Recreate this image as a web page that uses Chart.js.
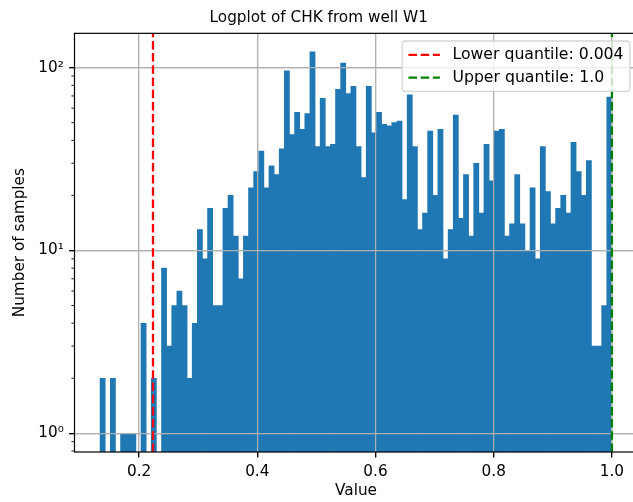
<!DOCTYPE html>
<html>
<head>
<meta charset="utf-8">
<script src="https://cdn.jsdelivr.net/npm/chart.js@4.4.1/dist/chart.umd.min.js"></script>
<style>
  html, body { margin: 0; padding: 0; background: #fff; overflow: hidden; }
  canvas { display: block; }
</style>
</head>
<body>
<canvas id="chart" width="640" height="502"></canvas>
<script>
'use strict';

// histogram of CHK (100 bins between binLo and binHi)
const binLo = 0.134;
const binHi = 1.0;
const counts = [
  2, 0, 2, 0, 1, 1, 1, 0, 4, 0,
  2, 0, 8, 3, 5, 6, 5, 2, 4, 13,
  9, 17, 5, 5, 17, 20, 12, 7, 12, 22,
  27, 35, 22, 29, 26, 36, 96, 43, 57, 46,
  56, 122, 37, 68, 37, 38, 76, 106, 72, 79,
  37, 25, 79, 44, 57, 49, 48, 50, 51, 19,
  71, 37, 13, 16, 45, 20, 46, 9, 13, 55,
  15, 26, 12, 30, 16, 38, 24, 45, 46, 12,
  14, 26, 14, 10, 22, 9, 37, 21, 14, 17,
  20, 16, 39, 27, 20, 31, 3, 3, 5, 69
];

const quantileValues = [0.2235, 1.0];
const quantileLabels = ['Lower quantile: 0.004', 'Upper quantile: 1.0'];
const quantileColors = ['#ff0000', '#008000'];

const xTicks = [0.2, 0.4, 0.6, 0.8, 1.0];
const xTickLabels = ['0.2', '0.4', '0.6', '0.8', '1.0'];
const yTicks = [1, 10, 100];
const yTickLabels = ['10\u2070', '10\u00b9', '10\u00b2'];
const yMinorTicks = [0.8, 0.9, 2, 3, 4, 5, 6, 7, 8, 9, 20, 30, 40, 50, 60, 70, 80, 90];

const xMin = 0.0907, xMax = 1.0433;
const yMin = 0.79, yMax = 154;

const FONT = 'DejaVu Sans';
const FS = 15.28;
const LEGEND_FS = 15.7;

const binWidth = (binHi - binLo) / counts.length;
const barData = counts.map((c, i) => ({ x: binLo + (i + 0.5) * binWidth, y: c > 0 ? c : null }));

const lineSets = quantileValues.map((v, i) => ({
  type: 'line',
  label: quantileLabels[i],
  data: [{ x: v, y: yMin }, { x: v, y: yMax }],
  borderColor: quantileColors[i],
  borderWidth: 2.3,
  borderDash: [8.5, 3.7],
  pointRadius: 0,
  order: 1
}));

// grid over the bars, spines, minor ticks, legend box
const overlay = {
  id: 'overlay',
  afterDatasetDraw(chart, args) {
    if (args.meta.type !== 'bar') return;
    chart.scales.x.drawGrid(chart.chartArea);
    chart.scales.y.drawGrid(chart.chartArea);
  },
  afterDraw(chart) {
    const ctx = chart.ctx;
    const a = chart.chartArea;
    const ys = chart.scales.y;
    ctx.save();
    ctx.strokeStyle = '#000';
    ctx.lineWidth = 0.9;
    yMinorTicks.forEach(v => {
      const py = ys.getPixelForValue(v);
      ctx.beginPath();
      ctx.moveTo(a.left - 3.1, py);
      ctx.lineTo(a.left, py);
      ctx.stroke();
    });
    ctx.lineWidth = 1.2;
    ctx.strokeRect(a.left, a.top, a.right - a.left, a.bottom - a.top);

    // legend
    const fs = LEGEND_FS;
    ctx.font = fs + 'px "' + FONT + '"';
    const textW = Math.max(...quantileLabels.map(t => ctx.measureText(t).width));
    const pad = 0.4 * fs, handleLen = 2 * fs, handleGap = 0.8 * fs;
    const rowH = 15.1, rowGap = 0.5 * FS;
    const w = pad + handleLen + handleGap + textW + pad;
    const h = pad * 2 + rowH * quantileLabels.length + rowGap * (quantileLabels.length - 1);
    const bx = a.right - 0.5 * FS - w;
    const by = a.top + 0.5 * FS;
    ctx.beginPath();
    ctx.roundRect(bx, by, w, h, 3);
    ctx.fillStyle = 'rgba(255,255,255,0.8)';
    ctx.fill();
    ctx.strokeStyle = 'rgba(204,204,204,0.8)';
    ctx.lineWidth = 1.3;
    ctx.stroke();
    quantileLabels.forEach((t, i) => {
      const cy = by + pad + rowH / 2 + i * (rowH + rowGap);
      ctx.beginPath();
      ctx.setLineDash([8.5, 3.7]);
      ctx.strokeStyle = quantileColors[i];
      ctx.lineWidth = 2.3;
      ctx.moveTo(bx + pad, cy);
      ctx.lineTo(bx + pad + handleLen, cy);
      ctx.stroke();
      ctx.setLineDash([]);
      ctx.fillStyle = '#000';
      ctx.textBaseline = 'middle';
      ctx.textAlign = 'left';
      ctx.fillText(t, bx + pad + handleLen + handleGap, cy);
    });
    ctx.restore();
  }
};

new Chart(document.getElementById('chart'), {
  type: 'bar',
  data: {
    datasets: [{
      label: 'CHK',
      data: barData,
      backgroundColor: '#1f77b4',
      borderWidth: 0,
      barPercentage: 1,
      categoryPercentage: 1,
      order: 2
    }].concat(lineSets)
  },
  options: {
    responsive: false,
    animation: false,
    layout: { padding: { left: 0, right: 2.5, top: 0, bottom: 0 } },
    plugins: {
      legend: { display: false },
      tooltip: { enabled: false },
      title: {
        display: true,
        text: 'Logplot of CHK from well W1',
        color: '#000',
        font: { family: FONT, size: FS, weight: 'normal' },
        padding: { top: 9.3, bottom: 5.7 }
      }
    },
    scales: {
      x: {
        type: 'linear',
        min: xMin,
        max: xMax,
        offset: false,
        afterFit: s => { s.height = 50; },
        afterBuildTicks: s => { s.ticks = xTicks.map(v => ({ value: v })); },
        ticks: {
          autoSkip: false,
          maxRotation: 0,
          padding: 5.3,
          color: '#000',
          font: { family: FONT, size: FS },
          callback: v => xTickLabels[xTicks.indexOf(v)]
        },
        grid: { offset: false, color: '#b0b0b0', lineWidth: 1.2, tickColor: '#000', tickWidth: 1.2, tickLength: 5.3 },
        border: { display: false },
        title: {
          display: true,
          text: 'Value',
          color: '#000',
          font: { family: FONT, size: FS },
          padding: { top: 0, bottom: 1.8 }
        }
      },
      y: {
        type: 'logarithmic',
        min: yMin,
        max: yMax,
        afterFit: s => { s.width = 74.5; },
        afterBuildTicks: s => { s.ticks = yTicks.map(v => ({ value: v })); },
        ticks: {
          autoSkip: false,
          padding: 5.3,
          color: '#000',
          font: { family: FONT, size: FS },
          callback: v => yTickLabels[yTicks.indexOf(v)]
        },
        grid: { color: '#b0b0b0', lineWidth: 1.2, tickColor: '#000', tickWidth: 1.2, tickLength: 5.3 },
        border: { display: false },
        title: {
          display: true,
          text: 'Number of samples',
          color: '#000',
          font: { family: FONT, size: FS },
          padding: { top: 11, bottom: 0 }
        }
      }
    }
  },
  plugins: [overlay]
});
</script>
</body>
</html>
